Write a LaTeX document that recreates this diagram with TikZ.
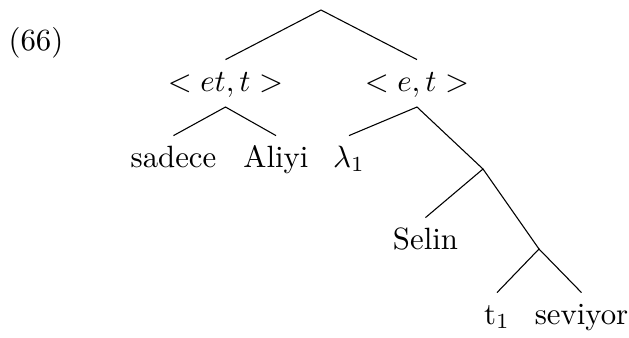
\documentclass[tikz,border=0pt]{standalone}
\usepackage{tikz}
\usetikzlibrary{positioning}
\tikzset{
  lbl/.style={anchor=base, inner sep=3pt, text height=7pt, text depth=2pt},
  branch/.style={draw, line width=0.35pt}
}

\begin{document}
\begin{tikzpicture}[x=0.01142cm, y=-0.01142cm]
    \useasboundingbox (0,0) rectangle (629,337);

    % Example number
    \node[anchor=base] (num) at (36,50) {(66)};

    % Branching points
    \coordinate (root) at (321,10);
    \coordinate (j1) at (483,169);
    \coordinate (j2) at (539,249);

    % Type labels
    \node[lbl] (etT) at (225.5,91) {$<et,t>$};
    \node[lbl] (eT) at (417,91) {$<e,t>$};

    % Words
    \node[lbl] (sadece) at (173.5,167) {sadece};
    \node[lbl] (aliyi) at (276,167) {Aliyi};
    \node[lbl] (lam) at (349,167) {$\lambda_1$};
    \node[lbl] (selin) at (425.5,249) {Selin};
    \node[lbl] (trace) at (497,324) {t$_1$};
    \node[lbl] (seviyor) at (581.5,324) {seviyor};

    % Branches
    \draw[branch] (etT.north) -- (root) -- (eT.north);
    \draw[branch] (sadece.north) -- (etT.south) -- (aliyi.north);
    \draw[branch] (lam.north) -- (eT.south) -- (j1);
    \draw[branch] (selin.north) -- (j1) -- (j2);
    \draw[branch] (trace.north) -- (j2) -- (seviyor.north);
\end{tikzpicture}
\end{document}
